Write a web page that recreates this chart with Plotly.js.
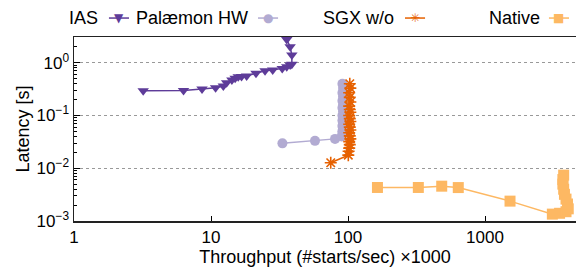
<!DOCTYPE html>
<html><head><meta charset="utf-8">
<script src="https://cdn.plot.ly/plotly-3.0.1.min.js"></script>
<style>html,body{margin:0;padding:0;background:#fff}#chart{width:576px;height:267px}</style>
</head><body><div id="chart"></div>
<script>
// Series names and colours
const seriesNames = ["IAS", "Palæmon HW", "SGX w/o", "Native"];
const seriesColors = ["#5e3c99", "#b2abd2", "#e66101", "#fdb863"];

// IAS (throughput x1000 starts/sec, latency s)
const iasX = [3.2, 6.3, 8.6, 10.8, 12.3, 13.0, 14.2, 15.0, 15.8, 16.7, 18.2, 21.3, 24.8, 28.2, 33.1, 35.7, 37.8, 38.9, 38.9, 37.8, 35.7];
const iasY = [0.294, 0.296, 0.317, 0.336, 0.361, 0.417, 0.47, 0.506, 0.543, 0.55, 0.56, 0.63, 0.70, 0.727, 0.78, 0.84, 0.90, 0.93, 1.40, 2.01, 2.75];

// Palæmon HW
const palX = [33.2, 57.4, 80.4, 90, 91, 91, 92, 91, 92, 91, 92, 91, 92, 91, 92, 91, 92, 91, 92, 91];
const palY = [0.0296, 0.033, 0.036, 0.040, 0.045, 0.05, 0.056, 0.063, 0.07, 0.08, 0.09, 0.10, 0.12, 0.14, 0.16, 0.19, 0.23, 0.27, 0.33, 0.40];

// SGX w/o
const sgxX = [74.8, 100.5, 101, 102, 103, 102, 104, 103, 102, 104, 103, 102, 104, 103, 102, 104, 103, 102, 104, 103, 102, 104, 103];
const sgxY = [0.0127, 0.0177, 0.021, 0.024, 0.028, 0.032, 0.036, 0.041, 0.047, 0.053, 0.06, 0.068, 0.077, 0.087, 0.10, 0.115, 0.13, 0.15, 0.18, 0.22, 0.27, 0.33, 0.40];

// Native
const natX = [164, 326, 483, 638, 1522, 3100, 3500, 3900, 4050, 4000, 3900, 3800, 3750, 3700, 3700, 3750];
const natY = [0.00432, 0.00432, 0.00457, 0.0043, 0.00238, 0.00135, 0.0014, 0.0015, 0.0017, 0.0021, 0.0026, 0.0032, 0.0040, 0.0050, 0.0061, 0.0074];

// Axis ticks
const xTickVals = [1, 10, 100, 1000];
const xTickText = ["1", "10", "100", "1000"];
const yTickVals = [0.001, 0.01, 0.1, 1];
const yTickText = ["10<sup>−3</sup>", "10<sup>−2</sup>", "10<sup>−1</sup>", "10<sup>0</sup>"];
const yMinorMult = [2, 3, 4, 5, 6, 7, 8, 9];
const yMinorVals = [];
[0.001, 0.01, 0.1, 1].forEach(d => yMinorMult.forEach(m => { if (d * m < 3) yMinorVals.push(d * m); }));

const FONT = "Liberation Sans, Arial, sans-serif";

const traces = [
  {x: iasX, y: iasY, name: seriesNames[0], type: "scatter", mode: "lines+markers",
   line: {color: seriesColors[0], width: 1.5},
   marker: {symbol: "triangle-down", size: 10, color: seriesColors[0]}},
  {x: palX, y: palY, name: seriesNames[1], type: "scatter", mode: "lines+markers",
   line: {color: seriesColors[1], width: 1.5},
   marker: {symbol: "circle", size: 10, color: seriesColors[1]}},
  {x: sgxX, y: sgxY, name: seriesNames[2], type: "scatter", mode: "lines+markers",
   line: {color: seriesColors[2], width: 1.5},
   marker: {symbol: "asterisk-open", size: 10, color: seriesColors[2], line: {color: seriesColors[2], width: 1.6}}},
  {x: natX, y: natY, name: seriesNames[3], type: "scatter", mode: "lines+markers",
   line: {color: seriesColors[3], width: 1.5},
   marker: {symbol: "square", size: 11, color: seriesColors[3]}}
];

// Gnuplot-style key: text followed by sample
const keyTextRight = [0.0518, 0.3506, 0.6414, 0.9323];
const keyMarkX = [0.0896, 0.3865, 0.6793, 0.9661];
const keyGlyph = ["▼", "●", "✳", "■"];
const keyY = 1.103;
const annotations = [];
const shapes = [];
for (let i = 0; i < seriesNames.length; i++) {
  annotations.push({xref: "paper", yref: "paper", x: keyTextRight[i], y: keyY, xanchor: "right", yanchor: "middle",
    text: seriesNames[i], showarrow: false, font: {family: FONT, size: 18, color: "#000"}});
  shapes.push({type: "line", xref: "paper", yref: "paper", x0: keyMarkX[i] - 0.02, x1: keyMarkX[i] + 0.02,
    y0: keyY, y1: keyY, line: {color: seriesColors[i], width: 1.5}});
  annotations.push({xref: "paper", yref: "paper", x: keyMarkX[i], y: keyY, xanchor: "center", yanchor: "middle",
    text: keyGlyph[i], showarrow: false, font: {family: "DejaVu Sans", size: 12, color: seriesColors[i]}});
}

const layout = {
  width: 576, height: 267,
  margin: {l: 74, r: 0, t: 37, b: 46},
  paper_bgcolor: "#fff", plot_bgcolor: "#fff",
  showlegend: false,
  font: {family: FONT, size: 16, color: "#000"},
  xaxis: {type: "log", range: [0, 3.664], tickvals: xTickVals, ticktext: xTickText,
    ticks: "inside", ticklen: 5, tickcolor: "#000", showgrid: false, zeroline: false,
    showline: true, linecolor: "#222", linewidth: 1.5, mirror: true,
    tickfont: {family: FONT, size: 17},
    title: {text: "Throughput (#starts/sec) ×1000", font: {family: FONT, size: 18}, standoff: 2}},
  yaxis: {type: "log", range: [-3, 0.487], tickvals: yTickVals, ticktext: yTickText,
    ticks: "inside", ticklen: 6, tickcolor: "#000", showgrid: true, gridcolor: "#999", griddash: "dot", gridwidth: 1,
    zeroline: false, showline: true, linecolor: "#222", linewidth: 1.5,
    minor: {tickmode: "array", tickvals: yMinorVals, ticks: "inside", ticklen: 3, tickcolor: "#000", showgrid: false},
    tickfont: {family: FONT, size: 17},
    title: {text: "Latency [s]", font: {family: FONT, size: 18}, standoff: 2}},
  annotations: annotations,
  shapes: shapes
};

Plotly.newPlot("chart", traces, layout, {displayModeBar: false, staticPlot: true});
</script>
</body></html>
